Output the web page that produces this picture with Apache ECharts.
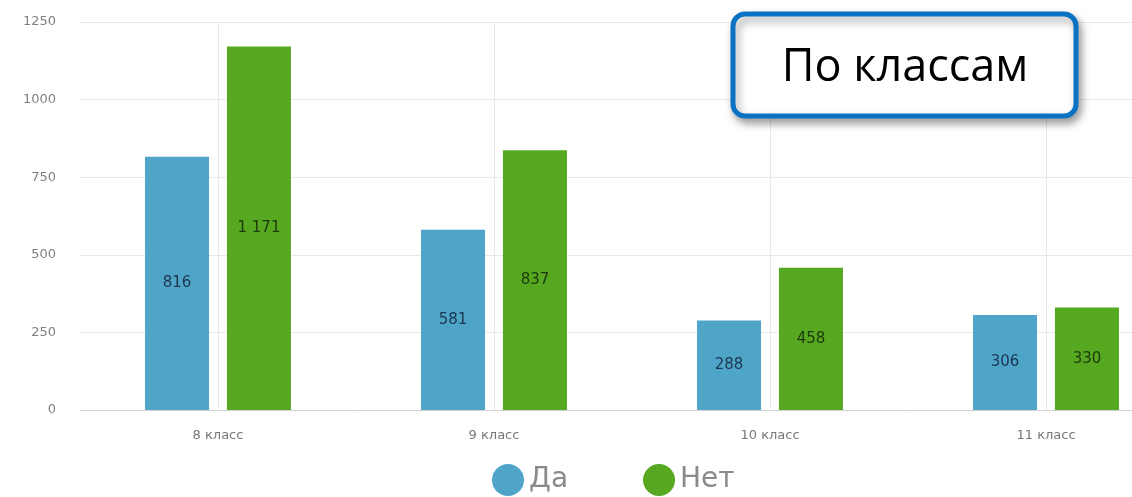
<!DOCTYPE html>
<html>
<head>
<meta charset="utf-8">
<script src="https://cdn.jsdelivr.net/npm/echarts@6/dist/echarts.min.js"></script>
<style>
  html, body { margin: 0; padding: 0; background: #fff; overflow: hidden; }
  /* the plot area continues past the right edge of the window */
  #chart { width: 1184px; height: 497px; }
</style>
</head>
<body>
<div id="chart"></div>
<script>
// Survey answers by school grade
const categories = ['8 класс', '9 класс', '10 класс', '11 класс'];
const yesValues = [816, 581, 288, 306];
const noValues = [1171, 837, 458, 330];
const seriesNames = ['Да', 'Нет'];
const yTicks = [0, 250, 500, 750, 1000, 1250];

const chart = echarts.init(document.getElementById('chart'));

// thousands separated by a space, e.g. "1 171"
function fmt(v) {
  return String(v).replace(/\B(?=(\d{3})+(?!\d))/g, ' ');
}

const barLabel = (color) => ({
  show: true,
  position: 'inside',
  fontFamily: 'DejaVu Sans',
  fontSize: 15,
  color: color,
  formatter: (p) => fmt(p.value)
});

chart.setOption({
  animation: false,
  backgroundColor: '#ffffff',
  grid: { left: 80, top: 22, right: 0, bottom: 87 },
  legend: {
    data: seriesNames,
    left: 487,
    top: 459,
    icon: 'circle',
    itemWidth: 32,
    itemHeight: 32,
    itemGap: 75,
    textStyle: { fontFamily: 'DejaVu Sans', fontSize: 28, color: '#8a8a8a' }
  },
  xAxis: {
    type: 'category',
    data: categories,
    axisLine: { lineStyle: { color: '#d0d0d0' } },
    axisTick: { show: false },
    axisLabel: { fontFamily: 'DejaVu Sans', fontSize: 13, color: '#777', margin: 19 },
    splitLine: { show: true, alignWithLabel: true, lineStyle: { color: '#e8e8e8' } }
  },
  yAxis: {
    type: 'value',
    min: yTicks[0],
    max: yTicks[yTicks.length - 1],
    interval: 250,
    axisLine: { show: false },
    axisTick: { show: false },
    axisLabel: {
      fontFamily: 'DejaVu Sans', fontSize: 13, color: '#808080', margin: 24,
      formatter: (v) => String(v)
    },
    splitLine: { lineStyle: { color: '#e8e8e8' } }
  },
  series: [
    {
      name: seriesNames[0],
      type: 'bar',
      data: yesValues,
      barWidth: 64,
      barGap: '28%',
      itemStyle: { color: '#4ea5c8' },
      label: barLabel('#1e3550')
    },
    {
      name: seriesNames[1],
      type: 'bar',
      data: noValues,
      barWidth: 64,
      itemStyle: { color: '#55a820' },
      label: barLabel('#1c3a0c')
    }
  ],
  graphic: [
    {
      type: 'rect',
      shape: { x: 733, y: 14, width: 343, height: 102, r: 12 },
      style: {
        fill: '#ffffff',
        stroke: '#0a72c2',
        lineWidth: 5,
        shadowBlur: 8,
        shadowOffsetX: 3,
        shadowOffsetY: 5,
        shadowColor: 'rgba(0,0,0,0.35)'
      },
      z: 100
    },
    {
      type: 'text',
      x: 905,
      y: 68,
      style: {
        text: 'По классам',
        fontFamily: 'Open Sans',
        fontSize: 45,
        fill: '#000',
        align: 'center',
        verticalAlign: 'middle'
      },
      z: 101
    }
  ]
});
</script>
</body>
</html>
